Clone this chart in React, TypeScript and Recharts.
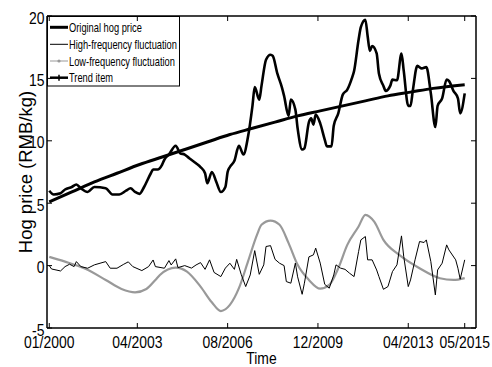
import { LineChart, Line, XAxis, YAxis } from 'recharts';

// month index counted from 01/2000
const xTicks = [0, 39, 79, 119, 159, 184];
const xTickLabels = ['01/2000', '04/2003', '08/2006', '12/2009', '04/2013', '05/2015'];
const yTicks = [-5, 0, 5, 10, 15, 20];

const priceMonths = [
  0, 2, 5, 7, 10, 12, 14, 17, 20, 25, 28, 31, 34, 36, 38, 40, 42, 45, 46, 48, 50, 51, 53, 56, 58,
  60, 62, 65, 67, 69, 70, 72, 74, 76, 78, 79, 80, 82, 84, 86, 88, 90, 91, 93, 94, 96, 98, 99, 101,
  103, 104, 106, 107, 109, 110, 112, 113, 115, 116, 117, 118, 120, 122, 123, 125, 126, 128, 130,
  132, 134, 135, 137, 138, 140, 141, 142, 143, 145, 146, 148, 149, 151, 152, 154, 156, 157, 159,
  160, 161, 163, 165, 167, 169, 171, 172, 174, 176, 177, 179, 181, 182, 184,
];
const priceValues = [
  6.0, 5.7, 5.8, 6.1, 6.3, 6.5, 6.2, 5.9, 6.3, 6.2, 5.7, 5.7, 6.0, 6.2, 5.9, 5.75, 6.3, 7.4, 7.7,
  7.7, 8.1, 8.5, 8.9, 9.6, 9.0, 8.9, 8.6, 8.2, 7.9, 7.4, 6.6, 7.5, 6.7, 5.9, 6.3, 7.5, 7.9, 8.4,
  9.6, 8.9, 10.3, 12.8, 14.3, 13.3, 14.4, 16.5, 16.9, 16.8, 15.4, 14.3, 13.6, 12.0, 13.3, 12.5,
  11.0, 9.3, 9.4, 11.5, 11.8, 11.3, 12.1, 11.4, 10.1, 9.55, 9.55, 11.2, 12.2, 13.7, 14.1, 15.0,
  15.6, 18.1, 19.1, 19.7, 18.4, 17.2, 17.6, 17.0, 15.4, 14.4, 14.0, 14.4, 14.9, 14.85, 17.0, 15.6,
  12.8, 12.8, 14.0, 16.0, 15.8, 15.9, 13.8, 11.1, 12.8, 13.4, 14.9, 14.8, 14.0, 13.4, 12.2, 13.8,
];

const highMonths = [
  0, 1, 3, 5, 7, 9, 11, 12, 14, 17, 20, 25, 27, 30, 33, 35, 37, 41, 44, 46, 47, 51, 53, 54, 56, 57,
  60, 63, 65, 67, 69, 71, 73, 76, 78, 80, 82, 83, 85, 87, 89, 91, 93, 95, 96, 98, 100, 102, 104,
  105, 107, 109, 110, 112, 113, 115, 117, 118, 120, 122, 124, 126, 127, 129, 131, 133, 135, 137,
  138, 140, 141, 143, 145, 146, 148, 150, 152, 154, 156, 157, 159, 160, 162, 164, 166, 167, 169,
  171, 172, 174, 176, 177, 180, 181, 182, 184,
];
const highValues = [
  0.0, -0.27, -0.35, -0.43, -0.08, 0.11, -0.08, 0.32, -0.08, -0.21, 0.06, 0.32, -0.21, -0.21, 0.11,
  0.3, -0.08, -0.4, -0.08, 0.45, -0.08, -0.21, 0.4, 0.05, 0.54, -0.16, 0.0, -0.2, 0.05, 0.24, -0.3,
  0.46, -0.55, -0.88, -0.2, 0.19, -0.3, 0.5, -0.7, -1.68, -0.75, 1.2, -0.7, 0.06, 1.53, 1.6, 0.5,
  0.19, 0.0, -1.28, -1.41, 0.2, -0.9, -2.3, -1.41, 0.7, 0.86, 1.4, 0.2, -1.5, -1.81, -0.75, 0.06,
  -0.2, -0.3, -0.61, -0.88, 1.12, 2.06, 2.33, 0.46, 0.46, -0.35, -0.88, -1.9, -1.68, -0.48, 0.06,
  2.38, 0.72, -1.68, -1.15, 0.46, 1.93, 1.85, 2.06, 0.32, -2.35, -0.35, 0.19, 1.66, 1.26, 0.46,
  -0.21, -1.09, 0.46,
];

const lowMonths = [
  0, 7, 16, 25, 32, 38, 43, 47, 49, 56, 61, 67, 72, 76, 80, 84, 88, 92, 94, 98, 102, 106, 110, 115,
  120, 124, 128, 132, 137, 140, 144, 148, 155, 164, 173, 179, 184,
];
const lowValues = [
  0.7, 0.32, -0.26, -1.15, -1.87, -2.14, -1.87, -1.15, -0.75, -0.16, -0.48, -1.68, -2.94, -3.64,
  -3.15, -1.81, 0.32, 2.46, 3.27, 3.6, 3.27, 1.8, 0.06, -1.15, -1.85, -1.55, -0.21, 1.66, 3.13,
  4.07, 3.5, 2.06, 0.86, -0.21, -1.01, -1.15, -1.0,
];

const trendMonths = [0, 10, 20, 30, 40, 50, 60, 70, 80, 90, 100, 110, 120, 130, 140, 150, 160, 170, 184];
const trendValues = [
  5.1, 5.9, 6.7, 7.4, 8.1, 8.7, 9.3, 9.9, 10.5, 11.0, 11.5, 12.0, 12.4, 12.8, 13.2, 13.6, 13.9,
  14.2, 14.5,
];

const toPoints = (months: number[], values: number[]) =>
  months.map((m, i) => ({ m, v: values[i] }));

const seriesNames = [
  'Original hog price',
  'High-frequency fluctuation',
  'Low-frequency fluctuation',
  'Trend item',
];

const FONT = '"Liberation Sans", Arial, sans-serif';
const SQUEEZE = 0.82;

function XTick({ x, y, payload }: any) {
  const label = xTickLabels[xTicks.indexOf(payload.value)] ?? '';
  return (
    <g transform={`translate(${x},${y})`}>
      <text transform={`scale(${SQUEEZE},1)`} textAnchor="middle" dy="0.71em" fontFamily={FONT} fontSize={17} fill="#000">
        {label}
      </text>
    </g>
  );
}

function YTick({ x, y, payload }: any) {
  return (
    <g transform={`translate(${x},${y + 1.5})`}>
      <text transform={`scale(${SQUEEZE},1)`} textAnchor="end" dy="0.355em" fontFamily={FONT} fontSize={17} fill="#000">
        {payload.value}
      </text>
    </g>
  );
}

// legend drawn in the chart's own svg, top-left inside the axes box
function LegendBox() {
  const rows = [27.3, 44.3, 61, 77.7];
  return (
    <g>
      <rect x={47.5} y={16.5} width={132} height={69.5} fill="#fff" stroke="#000" strokeWidth={1} />
      {seriesNames.map((name, i) => {
        const cy = rows[i];
        return (
          <g key={name}>
            {i === 0 && <line x1={50} y1={cy} x2={68} y2={cy} stroke="#000" strokeWidth={3} />}
            {i === 1 && <line x1={50} y1={cy} x2={68} y2={cy} stroke="#000" strokeWidth={1} />}
            {i === 2 && (
              <>
                <line x1={50} y1={cy} x2={68} y2={cy} stroke="#999" strokeWidth={1} />
                <circle cx={59} cy={cy} r={1.6} fill="#999" />
              </>
            )}
            {i === 3 && (
              <>
                <line x1={50} y1={cy} x2={68} y2={cy} stroke="#000" strokeWidth={2.5} />
                <line x1={59} y1={cy - 3} x2={59} y2={cy + 3} stroke="#000" strokeWidth={1.5} />
              </>
            )}
            <g transform={`translate(69,${cy + 4.6}) scale(0.715,1)`}>
              <text x={0} y={0} fontFamily={FONT} fontSize={13} fill="#000">
                {name}
              </text>
            </g>
          </g>
        );
      })}
    </g>
  );
}

export default function App() {
  return (
    <div style={{ position: 'absolute', left: 0, top: 0, width: 492, height: 367, background: '#fff' }}>
      <LineChart width={492} height={367} margin={{ top: 1, right: 1, bottom: 0, left: 0 }}>
        <XAxis
          type="number"
          dataKey="m"
          domain={[-1, 189]}
          ticks={xTicks}
          allowDataOverflow
          height={39}
          tickSize={-5}
          tickMargin={12.5}
          interval={0}
          axisLine={{ stroke: '#000', strokeWidth: 1.5 }}
          tickLine={{ stroke: '#000' }}
          tick={<XTick />}
        />
        <XAxis
          xAxisId="top"
          orientation="top"
          type="number"
          dataKey="m"
          domain={[-1, 189]}
          ticks={xTicks}
          tickFormatter={() => ''}
          allowDataOverflow
          height={15}
          tickSize={-5}
          interval={0}
          axisLine={{ stroke: '#000', strokeWidth: 1.5 }}
          tickLine={{ stroke: '#000' }}
        />
        <YAxis
          type="number"
          domain={[-5, 20]}
          ticks={yTicks}
          allowDataOverflow
          width={47}
          tickSize={-5}
          tickMargin={7.5}
          interval={0}
          axisLine={{ stroke: '#000', strokeWidth: 1.5 }}
          tickLine={{ stroke: '#000' }}
          tick={<YTick />}
        />
        <YAxis
          yAxisId="right"
          orientation="right"
          type="number"
          domain={[-5, 20]}
          ticks={yTicks}
          tickFormatter={() => ''}
          allowDataOverflow
          width={15}
          tickSize={-5}
          interval={0}
          axisLine={{ stroke: '#000', strokeWidth: 1.5 }}
          tickLine={{ stroke: '#000' }}
        />
        <Line
          data={toPoints(lowMonths, lowValues)}
          dataKey="v"
          name={seriesNames[2]}
          type="monotone"
          stroke="#999"
          strokeWidth={2.2}
          dot={false}
          isAnimationActive={false}
        />
        <Line
          data={toPoints(highMonths, highValues)}
          dataKey="v"
          name={seriesNames[1]}
          type="linear"
          stroke="#000"
          strokeWidth={1}
          dot={false}
          isAnimationActive={false}
        />
        <Line
          data={toPoints(trendMonths, trendValues)}
          dataKey="v"
          name={seriesNames[3]}
          type="monotone"
          stroke="#000"
          strokeWidth={3}
          dot={false}
          isAnimationActive={false}
        />
        <Line
          data={toPoints(priceMonths, priceValues)}
          dataKey="v"
          name={seriesNames[0]}
          type="monotone"
          stroke="#000"
          strokeWidth={2.6}
          dot={false}
          isAnimationActive={false}
        />
        <LegendBox />
        <text
          x={25}
          y={172}
          transform="rotate(-90 25 172)"
          textAnchor="middle"
          dominantBaseline="central"
          fontFamily={FONT}
          fontSize={18.5}
          fill="#000"
        >
          Hog price (RMB/kg)
        </text>
        <text
          x={261.5}
          y={364}
          transform={`translate(261.5,0) scale(${SQUEEZE},1) translate(-261.5,0)`}
          textAnchor="middle"
          fontFamily={FONT}
          fontSize={17}
          fill="#000"
        >
          Time
        </text>
      </LineChart>
    </div>
  );
}
